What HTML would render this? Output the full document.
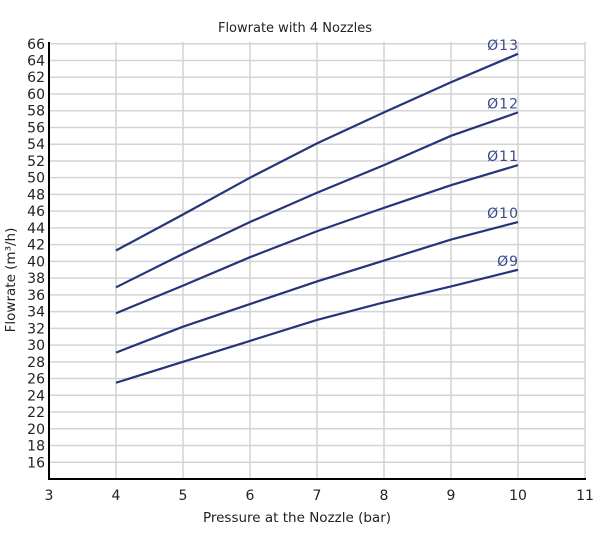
<!DOCTYPE html>
<html><head><meta charset="utf-8"><style>
body{margin:0;background:#fff;}
svg text{font-family:"DejaVu Sans","Liberation Sans",sans-serif;}
</style></head><body>
<svg id="chart" width="600" height="540" xmlns="http://www.w3.org/2000/svg">
<text x="295" y="32" font-size="13" text-anchor="middle" fill="#222">Flowrate with 4 Nozzles</text>
<g id="grid"></g>
<g id="series"></g>
<line x1="49" y1="42" x2="49" y2="479" stroke="#000" stroke-width="2"/>
<line x1="48" y1="479" x2="586" y2="479" stroke="#000" stroke-width="2"/>
<text x="297" y="522" font-size="13.5" text-anchor="middle" fill="#222">Pressure at the Nozzle (bar)</text>
<text transform="translate(15,280) rotate(-90)" font-size="13.5" text-anchor="middle" fill="#222">Flowrate (m³/h)</text>
</svg>
<script>
const pressures=[4,5,6,7,8,9,10];
const nozzleLabels=["Ø13","Ø12","Ø11","Ø10","Ø9"];
const flow13=[41.3,45.6,50.0,54.1,57.8,61.4,64.8];
const flow12=[36.9,40.9,44.7,48.2,51.5,55.0,57.8];
const flow11=[33.8,37.1,40.5,43.6,46.4,49.1,51.5];
const flow10=[29.1,32.2,34.9,37.6,40.1,42.6,44.7];
const flow9=[25.5,28.0,30.5,33.0,35.1,37.0,39.0];
const xTicks=[3,4,5,6,7,8,9,10,11];
const yTicks=[16,18,20,22,24,26,28,30,32,34,36,38,40,42,44,46,48,50,52,54,56,58,60,62,64,66];
const allSeries=[flow13,flow12,flow11,flow10,flow9];
const NS="http://www.w3.org/2000/svg";
function xs(v){return 49+(v-3)*67;}
function ys(v){return 479-(v-14)*8.37;}
function mk(tag,attrs,parent){const e=document.createElementNS(NS,tag);for(const k in attrs)e.setAttribute(k,attrs[k]);parent.appendChild(e);return e;}
const grid=document.getElementById('grid');
const ser=document.getElementById('series');
const svg=document.getElementById('chart');
xTicks.forEach(t=>{
  if(t>3){const l=mk('line',{x1:xs(t),y1:42,x2:xs(t),y2:479,stroke:'#d4d4d4','stroke-width':1.5},grid);
  
  }
  const tx=mk('text',{x:xs(t),y:500,'font-size':14,'text-anchor':'middle',fill:'#222'},svg);
  tx.textContent=t;
  
  
});
yTicks.forEach(t=>{
  const l=mk('line',{x1:49,y1:ys(t),x2:586,y2:ys(t),stroke:'#d4d4d4','stroke-width':1.5},grid);
  
  
  const tx=mk('text',{x:45,y:ys(t)+5,'font-size':14,'text-anchor':'end',fill:'#222'},svg);
  tx.textContent=t;
  
  
});
allSeries.forEach((s,i)=>{
  const pts=s.map((v,j)=>xs(pressures[j])+','+ys(v)).join(' ');
  const p=mk('polyline',{points:pts,fill:'none',stroke:'#26357a','stroke-width':2.2},ser);
  
  
  const last=s[s.length-1];
  const tx=mk('text',{x:xs(pressures[pressures.length-1])+1,y:ys(last)-4,'font-size':14,'letter-spacing':'1','text-anchor':'end',fill:'#3b4a8c'},ser);
  tx.textContent=nozzleLabels[i];
  
  
});
</script>
</body></html>
